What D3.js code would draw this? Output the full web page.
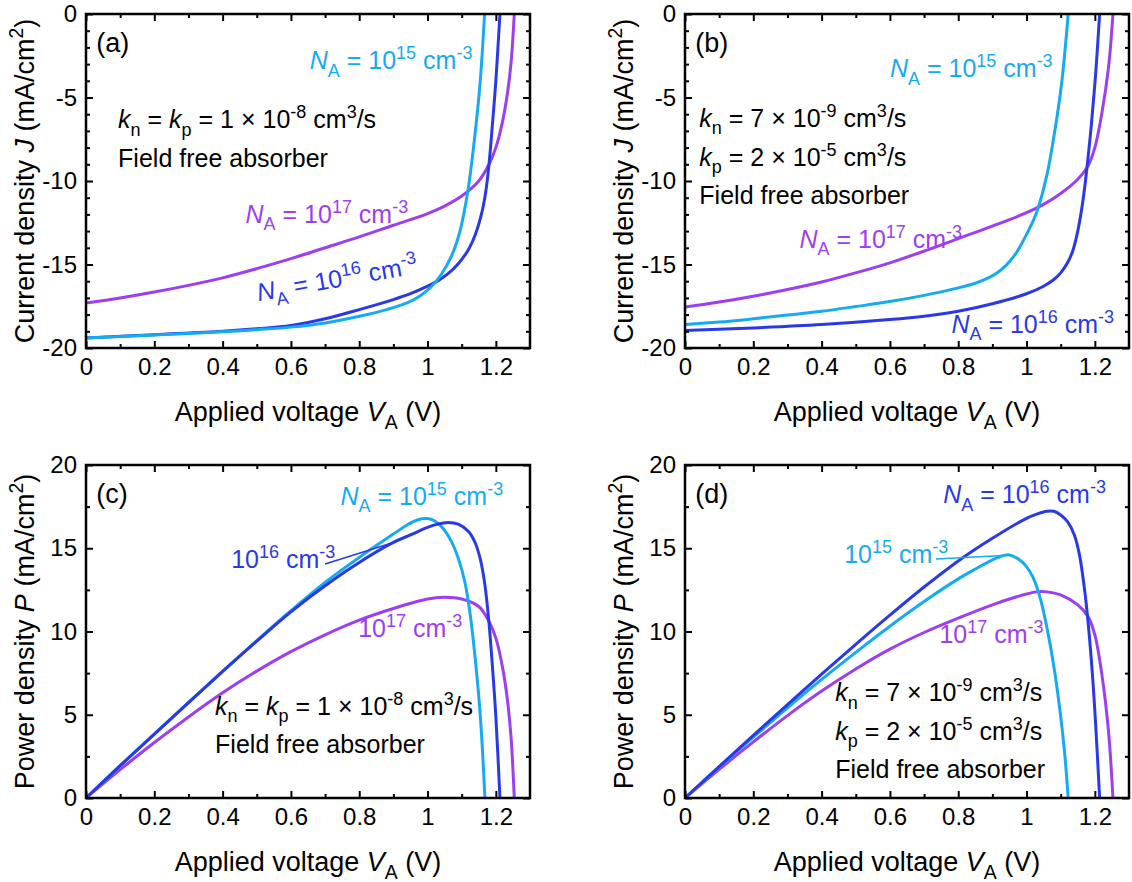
<!DOCTYPE html>
<html>
<head>
<meta charset="utf-8">
<script src="https://cdn.jsdelivr.net/npm/d3@7"></script>
<style>
  body { margin: 0; background: #fff; }
  text { font-family: "Liberation Sans", Arial, sans-serif; fill: #000; }
</style>
</head>
<body>
<svg id="chart" width="1132" height="882"></svg>
<script>
// ---- data ----
// tick labels
var xTicks = [0, 0.2, 0.4, 0.6, 0.8, 1, 1.2];
var xTickLabels = ["0", "0.2", "0.4", "0.6", "0.8", "1", "1.2"];
var jTicks = [0, -5, -10, -15, -20];
var jTickLabels = ["0", "-5", "-10", "-15", "-20"];
var pTicks = [0, 5, 10, 15, 20];
var pTickLabels = ["0", "5", "10", "15", "20"];

// (a) J-V, kn = kp = 1e-8
var vA15 = [0, 0.2, 0.4, 0.5, 0.6, 0.7, 0.8, 0.88, 0.94, 0.98, 1.01, 1.04, 1.07, 1.095, 1.118, 1.139, 1.154, 1.167];
var jA15 = [-19.4, -19.22, -19.03, -18.9, -18.75, -18.5, -18.1, -17.7, -17.3, -16.85, -16.35, -15.6, -14.5, -13.0, -10.6, -7.2, -4.1, 0];
var vA16 = [0, 0.2, 0.4, 0.5, 0.6, 0.7, 0.8, 0.9, 0.95, 1.0, 1.03, 1.06, 1.09, 1.12, 1.14, 1.16, 1.17, 1.18, 1.19, 1.2, 1.212];
var jA16 = [-19.4, -19.2, -19.0, -18.85, -18.65, -18.25, -17.7, -17.1, -16.75, -16.3, -15.98, -15.55, -14.95, -14.1, -13.2, -11.8, -10.7, -9.0, -6.6, -4.0, 0];
var vA17 = [0, 0.1, 0.2, 0.3, 0.4, 0.5, 0.6, 0.7, 0.8, 0.9, 1.0, 1.05, 1.1, 1.15, 1.18, 1.2, 1.22, 1.235, 1.245, 1.254];
var jA17 = [-17.3, -17.0, -16.65, -16.25, -15.8, -15.25, -14.65, -14.0, -13.35, -12.65, -11.95, -11.5, -10.9, -10.0, -9.0, -8.0, -6.4, -4.6, -2.8, 0];

// (b) J-V, kn = 7e-9, kp = 2e-5
var vB15 = [0, 0.1, 0.2, 0.3, 0.4, 0.5, 0.6, 0.7, 0.8, 0.85, 0.88, 0.91, 0.94, 0.97, 1.0, 1.03, 1.06, 1.082, 1.103, 1.122];
var jB15 = [-18.6, -18.45, -18.25, -18.03, -17.8, -17.52, -17.22, -16.85, -16.4, -16.12, -15.88, -15.55, -15.05, -14.3, -13.2, -11.85, -9.6, -7.1, -4.1, 0];
var vB16 = [0, 0.2, 0.4, 0.6, 0.7, 0.8, 0.9, 1.0, 1.05, 1.08, 1.1, 1.12, 1.135, 1.15, 1.165, 1.178, 1.19, 1.203, 1.214];
var jB16 = [-18.95, -18.8, -18.6, -18.3, -18.1, -17.8, -17.35, -16.75, -16.3, -15.9, -15.5, -14.9, -14.2, -13.0, -11.2, -9.0, -6.6, -3.4, 0];
var vB17 = [0, 0.1, 0.2, 0.3, 0.4, 0.5, 0.6, 0.7, 0.8, 0.9, 1.0, 1.05, 1.1, 1.15, 1.18, 1.2, 1.22, 1.24, 1.253];
var jB17 = [-17.55, -17.25, -16.9, -16.5, -16.05, -15.5, -14.9, -14.2, -13.45, -12.7, -11.9, -11.4, -10.75, -9.9, -9.1, -8.0, -6.0, -3.2, 0];

// (c) P-V, kn = kp = 1e-8
var vC15 = [0, 0.1, 0.2, 0.3, 0.4, 0.5, 0.6, 0.7, 0.8, 0.9, 0.94, 0.97, 1.0, 1.02, 1.045, 1.07, 1.09, 1.11, 1.125, 1.14, 1.155, 1.168];
var pC15 = [0, 1.94, 3.84, 5.73, 7.6, 9.45, 11.25, 12.95, 14.45, 15.85, 16.4, 16.7, 16.78, 16.65, 16.2, 15.4, 14.4, 12.9, 11.0, 8.3, 4.8, 0];
var vC16 = [0, 0.1, 0.2, 0.3, 0.4, 0.5, 0.6, 0.7, 0.8, 0.9, 0.95, 1.0, 1.03, 1.06, 1.09, 1.12, 1.14, 1.155, 1.168, 1.18, 1.19, 1.2, 1.212];
var pC16 = [0, 1.94, 3.84, 5.73, 7.6, 9.42, 11.18, 12.75, 14.15, 15.35, 15.8, 16.25, 16.45, 16.55, 16.45, 16.0, 15.3, 14.3, 12.8, 10.5, 7.9, 4.9, 0];
var vC17 = [0, 0.1, 0.2, 0.3, 0.4, 0.5, 0.6, 0.7, 0.8, 0.9, 1.0, 1.05, 1.1, 1.15, 1.18, 1.2, 1.22, 1.235, 1.245, 1.254];
var pC17 = [0, 1.7, 3.33, 4.87, 6.32, 7.62, 8.79, 9.8, 10.68, 11.38, 11.95, 12.05, 11.95, 11.5, 10.6, 9.6, 7.8, 5.7, 3.5, 0];

// (d) P-V, kn = 7e-9, kp = 2e-5
var vD15 = [0, 0.1, 0.2, 0.3, 0.4, 0.5, 0.6, 0.7, 0.8, 0.85, 0.9, 0.93, 0.95, 0.98, 1.0, 1.02, 1.04, 1.06, 1.08, 1.1, 1.112, 1.122];
var pD15 = [0, 1.86, 3.65, 5.42, 7.12, 8.75, 10.32, 11.8, 13.16, 13.75, 14.3, 14.55, 14.6, 14.3, 13.9, 13.2, 12.0, 10.2, 7.9, 4.9, 2.6, 0];
var vD16 = [0, 0.1, 0.2, 0.3, 0.4, 0.5, 0.6, 0.7, 0.8, 0.9, 1.0, 1.03, 1.06, 1.08, 1.1, 1.12, 1.14, 1.155, 1.17, 1.18, 1.193, 1.203, 1.214];
var pD16 = [0, 1.89, 3.76, 5.61, 7.44, 9.23, 10.98, 12.67, 14.24, 15.6, 16.8, 17.05, 17.22, 17.22, 17.0, 16.6, 15.8, 14.6, 12.5, 10.6, 7.4, 4.2, 0];
var vD17 = [0, 0.1, 0.2, 0.3, 0.4, 0.5, 0.6, 0.7, 0.8, 0.9, 0.95, 1.0, 1.03, 1.06, 1.1, 1.15, 1.18, 1.2, 1.22, 1.24, 1.253];
var pD17 = [0, 1.72, 3.37, 4.95, 6.42, 7.75, 8.94, 9.94, 10.8, 11.6, 11.95, 12.25, 12.38, 12.38, 12.2, 11.6, 10.9, 9.8, 7.5, 4.0, 0];

var cLight = "#16abf0";
var cBlue = "#2a39e6";
var cPurple = "#9c3ef2";

// ---- layout ----
var svg = d3.select("#chart");
var plotW = 444;
var tickFs = 24, titleFs = 27, noteFs = 25;

function zip(xs, ys) {
    return xs.map(function(v, i) { return [v, ys[i]]; });
}

// write text with italic / sub / sup pieces
function richText(g, x, y, segs, color, fs, rot) {
    var t = g.append("text")
        .attr("x", x).attr("y", y)
        .attr("font-size", fs)
        .style("fill", color || "#000");
    if (rot) t.attr("transform", "rotate(" + rot + "," + x + "," + y + ")");
    var shift = 0;
    segs.forEach(function(s) {
        var seg = typeof s === "string" ? {t: s} : s;
        var target = seg.sup ? -0.4 * fs : (seg.sub ? 0.3 * fs : 0);
        t.append("tspan")
            .attr("dy", target - shift)
            .attr("font-size", (seg.sup || seg.sub) ? fs * 0.72 : fs)
            .attr("font-style", seg.i ? "italic" : null)
            .text(seg.t);
        shift = target;
    });
    return t;
}

function drawPanel(p) {
    var g = svg.append("g");
    var x = d3.scaleLinear().domain([0, 1.3]).range([p.left, p.left + plotW]);
    var y = d3.scaleLinear().domain(p.yDomain).range([p.top + p.h, p.top]);

    // curves
    var line = d3.line()
        .x(function(d) { return x(d[0]); })
        .y(function(d) { return y(d[1]); })
        .curve(d3.curveCatmullRom.alpha(0.5));
    p.series.forEach(function(s) {
        g.append("path")
            .datum(zip(s.v, s.y))
            .attr("d", line)
            .attr("fill", "none")
            .attr("stroke", s.color)
            .attr("stroke-width", 3);
    });

    // axes (ticks inward on all sides)
    var xMinor = [0.1, 0.3, 0.5, 0.7, 0.9, 1.1];
    var bottom = g.append("g").attr("transform", "translate(0," + (p.top + p.h) + ")");
    bottom.call(d3.axisBottom(x).tickValues(xTicks)
        .tickFormat(function(d, i) { return xTickLabels[i]; })
        .tickSize(-7).tickPadding(10));
    bottom.append("g").call(d3.axisBottom(x).tickValues(xMinor).tickFormat("").tickSize(-4));
    var top = g.append("g").attr("transform", "translate(0," + p.top + ")");
    top.call(d3.axisTop(x).tickValues(xTicks).tickFormat("").tickSize(-7));
    top.append("g").call(d3.axisTop(x).tickValues(xMinor).tickFormat("").tickSize(-4));

    var left = g.append("g").attr("transform", "translate(" + p.left + ",0)");
    left.call(d3.axisLeft(y).tickValues(p.yTicks)
        .tickFormat(function(d, i) { return p.yLabels[i]; })
        .tickSize(-7).tickPadding(9));
    left.append("g").call(d3.axisLeft(y).tickValues(p.yMinor).tickFormat("").tickSize(-4));
    var right = g.append("g").attr("transform", "translate(" + (p.left + plotW) + ",0)");
    right.call(d3.axisRight(y).tickValues(p.yTicks).tickFormat("").tickSize(-7));
    right.append("g").call(d3.axisRight(y).tickValues(p.yMinor).tickFormat("").tickSize(-4));

    g.selectAll(".domain").remove();
    g.selectAll(".tick line").attr("stroke", "#000").attr("stroke-width", 2);
    g.selectAll(".tick text")
        .attr("font-size", tickFs)
        .attr("font-family", "'Liberation Sans', Arial, sans-serif")
        .style("fill", "#000");

    // frame
    g.append("rect")
        .attr("x", p.left).attr("y", p.top)
        .attr("width", plotW).attr("height", p.h)
        .attr("fill", "none").attr("stroke", "#000").attr("stroke-width", 2.5);

    // axis titles
    var xt = richText(g, p.left + plotW / 2, p.top + p.h + 73,
        ["Applied voltage ", {t: "V", i: true}, {t: "A", sub: true}, " (V)"], "#000", titleFs);
    xt.attr("text-anchor", "middle");
    var cy = p.top + p.h / 2, cx = p.left - 52;
    var yt = richText(g, cx, cy, p.yTitle, "#000", titleFs, -90);
    yt.attr("text-anchor", "middle");

    // panel tag
    richText(g, x(0.03), y(p.tagY), [p.tag], "#000", 27);

    // notes
    p.notes.forEach(function(n) {
        richText(g, x(n.at[0]), y(n.at[1]), n.segs, n.color || "#000", noteFs, n.rot);
        if (n.lead) {
            g.append("line")
                .attr("x1", x(n.lead[0])).attr("y1", y(n.lead[1]))
                .attr("x2", x(n.lead[2])).attr("y2", y(n.lead[3]))
                .attr("stroke", n.color).attr("stroke-width", 1.5);
        }
    });
}

var naLabel = function(exp) {
    return [{t: "N", i: true}, {t: "A", sub: true}, " = 10", {t: exp, sup: true}, " cm", {t: "-3", sup: true}];
};
var shortLabel = function(exp) {
    return ["10", {t: exp, sup: true}, " cm", {t: "-3", sup: true}];
};
var kEqual = [{t: "k", i: true}, {t: "n", sub: true}, " = ", {t: "k", i: true}, {t: "p", sub: true},
    " = 1 \u00d7 10", {t: "-8", sup: true}, " cm", {t: "3", sup: true}, "/s"];
var kN = [{t: "k", i: true}, {t: "n", sub: true}, " = 7 \u00d7 10", {t: "-9", sup: true}, " cm", {t: "3", sup: true}, "/s"];
var kP = [{t: "k", i: true}, {t: "p", sub: true}, " = 2 \u00d7 10", {t: "-5", sup: true}, " cm", {t: "3", sup: true}, "/s"];
var ffa = ["Field free absorber"];

var jTitle = ["Current density ", {t: "J", i: true}, " (mA/cm", {t: "2", sup: true}, ")"];
var pTitle = ["Power density ", {t: "P", i: true}, " (mA/cm", {t: "2", sup: true}, ")"];
var jMinor = [-1, -2, -3, -4, -6, -7, -8, -9, -11, -12, -13, -14, -16, -17, -18, -19];
var pMinor = [2.5, 7.5, 12.5, 17.5];

drawPanel({
    tag: "(a)", tagY: -2.3, left: 86, top: 14, h: 334, yDomain: [-20, 0],
    yTicks: jTicks, yLabels: jTickLabels, yMinor: jMinor, yTitle: jTitle,
    series: [
        {v: vA17, y: jA17, color: cPurple},
        {v: vA16, y: jA16, color: cBlue},
        {v: vA15, y: jA15, color: cLight}
    ],
    notes: [
        {at: [0.655, -3.3], segs: naLabel("15"), color: cLight},
        {at: [0.094, -6.85], segs: kEqual},
        {at: [0.094, -9.15], segs: ffa},
        {at: [0.467, -12.5], segs: naLabel("17"), color: cPurple},
        {at: [0.505, -17.2], segs: naLabel("16"), color: cBlue, rot: -10}
    ]
});

drawPanel({
    tag: "(b)", tagY: -2.3, left: 685, top: 14, h: 334, yDomain: [-20, 0],
    yTicks: jTicks, yLabels: jTickLabels, yMinor: jMinor, yTitle: jTitle,
    series: [
        {v: vB17, y: jB17, color: cPurple},
        {v: vB16, y: jB16, color: cBlue},
        {v: vB15, y: jB15, color: cLight}
    ],
    notes: [
        {at: [0.6, -3.8], segs: naLabel("15"), color: cLight},
        {at: [0.042, -6.75], segs: kN},
        {at: [0.042, -9.1], segs: kP},
        {at: [0.042, -11.35], segs: ffa},
        {at: [0.335, -14.0], segs: naLabel("17"), color: cPurple},
        {at: [0.78, -19.1], segs: naLabel("16"), color: cBlue}
    ]
});

drawPanel({
    tag: "(c)", tagY: 17.7, left: 86, top: 465, h: 333, yDomain: [0, 20],
    yTicks: pTicks, yLabels: pTickLabels, yMinor: pMinor, yTitle: pTitle,
    series: [
        {v: vC17, y: pC17, color: cPurple},
        {v: vC15, y: pC15, color: cLight},
        {v: vC16, y: pC16, color: cBlue}
    ],
    notes: [
        {at: [0.745, 17.6], segs: naLabel("15"), color: cLight},
        {at: [0.425, 13.8], segs: shortLabel("16"), color: cBlue, lead: [0.70, 14.05, 0.9, 15.35]},
        {at: [0.797, 9.66], segs: shortLabel("17"), color: cPurple},
        {at: [0.378, 5.0], segs: kEqual},
        {at: [0.378, 2.7], segs: ffa}
    ]
});

drawPanel({
    tag: "(d)", tagY: 17.7, left: 685, top: 465, h: 333, yDomain: [0, 20],
    yTicks: pTicks, yLabels: pTickLabels, yMinor: pMinor, yTitle: pTitle,
    series: [
        {v: vD17, y: pD17, color: cPurple},
        {v: vD15, y: pD15, color: cLight},
        {v: vD16, y: pD16, color: cBlue}
    ],
    notes: [
        {at: [0.756, 17.7], segs: naLabel("16"), color: cBlue},
        {at: [0.466, 14.1], segs: shortLabel("15"), color: cLight, lead: [0.735, 14.36, 0.92, 14.55]},
        {at: [0.745, 9.3], segs: shortLabel("17"), color: cPurple},
        {at: [0.44, 5.8], segs: kN},
        {at: [0.44, 3.5], segs: kP},
        {at: [0.44, 1.2], segs: ffa}
    ]
});
</script>
</body>
</html>
